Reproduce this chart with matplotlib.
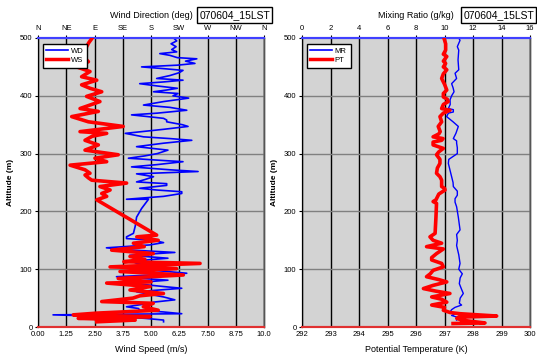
import matplotlib
matplotlib.use("Agg")
import matplotlib.pyplot as plt
from matplotlib.lines import Line2D

plt.rcParams['font.family'] = ['Liberation Sans', 'DejaVu Sans']

# ---------------- data ----------------
wd_alt = [500, 495, 490, 485, 480, 476, 473, 470, 466, 464, 460, 456, 453, 450, 447, 444, 440, 435,
          430, 427, 424, 421, 417, 413, 410, 407, 404, 400, 396, 390, 384, 380, 375, 370, 367, 364,
          361, 358, 355, 350, 347, 342, 335, 329, 326, 323, 318, 312, 306, 300, 296, 292, 288, 286,
          281, 277, 272, 269, 265, 260, 255, 251, 248, 245, 240, 237, 234, 231, 226, 221, 221, 205,
          190, 175, 162, 156, 153, 150, 146, 142, 137, 133, 129, 124, 119, 114, 110, 104, 98, 93, 87,
          81, 76, 70, 67, 61, 56, 52, 47, 43, 41, 35, 32, 29, 26, 23, 21, 18, 15, 12, 9]
wd_deg = [216, 221, 212, 220, 213, 221, 194, 210, 222, 253, 235, 250, 222, 165, 200, 231, 225, 210,
          189, 231, 200, 162, 190, 222, 205, 184, 223, 215, 240, 200, 168, 210, 237, 190, 149, 175,
          200, 205, 205, 230, 239, 200, 139, 168, 210, 245, 200, 157, 207, 190, 170, 144, 200, 231,
          190, 149, 210, 255, 157, 184, 170, 157, 205, 205, 162, 189, 229, 229, 200, 141, 176, 165,
          157, 155, 152, 141, 141, 184, 200, 178, 109, 150, 218, 146, 207, 150, 157, 200, 185, 237, 125,
          207, 146, 200, 229, 157, 180, 200, 218, 184, 178, 141, 160, 162, 200, 229, 24, 125, 170, 200, 200]

ws_alt = [500, 492, 485, 476, 468, 459, 450, 442, 433, 427, 419, 413, 407, 399, 390, 384, 378, 373,
          364, 355, 347, 338, 335, 330, 323, 315, 306, 298, 292, 286, 280, 272, 266, 263, 258, 254,
          249, 243, 237, 231, 226, 220, 159, 156, 150, 145, 139, 133, 127, 122, 117, 113, 110, 104,
          101, 96, 90, 84, 78, 76, 70, 64, 58, 54, 50, 44, 41, 35, 29, 24, 21, 18, 15, 12, 9]
ws_ms = [2.40, 2.25, 2.15, 2.10, 2.00, 2.23, 1.71, 2.30, 1.93, 2.60, 1.93, 2.30, 2.82, 2.15, 2.74, 2.30,
         1.86, 2.67, 1.49, 2.23, 3.77, 1.86, 3.04, 2.40, 2.08, 2.67, 2.08, 3.55, 2.52, 3.04, 1.42, 2.08,
         2.30, 2.08, 2.23, 2.38, 3.92, 2.74, 3.19, 2.82, 3.04, 2.60, 5.25, 4.37, 5.32, 4.22, 4.70, 3.26,
         5.10, 4.07, 4.73, 3.80, 7.17, 3.19, 6.13, 3.63, 6.43, 3.55, 5.00, 3.04, 4.96, 4.07, 5.55, 4.51,
         4.20, 2.82, 5.10, 4.66, 5.32, 2.60, 1.56, 4.96, 1.78, 4.30, 2.60]

mr_alt = [500, 496, 485, 479, 462, 445, 439, 430, 421, 414, 407, 400, 393, 385, 378, 376, 372, 370,
          364, 355, 347, 335, 326, 322, 318, 310, 300, 290, 283, 270, 260, 250, 243, 235, 228, 222,
          216, 208, 190, 168, 160, 150, 141, 125, 110, 100, 92, 85, 75, 65, 58, 50, 41, 38, 34, 30,
          26, 22, 20, 16, 12]
mr_gkg = [11.0, 11.09, 10.9, 11.0, 10.95, 11.0, 10.74, 10.85, 10.5, 10.6, 10.67, 10.5, 10.39, 10.4,
          10.27, 10.62, 10.62, 10.27, 10.15, 10.6, 10.97, 10.8, 10.62, 10.85, 10.85, 10.9, 10.9, 10.3,
          10.27, 10.4, 10.5, 10.6, 10.62, 10.9, 10.9, 10.74, 10.74, 10.85, 10.97, 11.09, 10.85, 10.9,
          10.85, 11.0, 11.09, 11.0, 11.25, 11.1, 11.04, 11.2, 11.32, 11.1, 11.04, 11.2, 10.74, 10.5,
          10.39, 10.7, 10.5, 11.0, 10.85]

pt_alt = [500, 490, 479, 472, 468, 460, 456, 450, 445, 438, 430, 420, 410, 404, 398, 394, 390, 385,
          378, 375, 370, 364, 355, 347, 338, 334, 329, 326, 323, 320, 315, 309, 303, 298, 290, 283,
          275, 266, 260, 254, 248, 243, 240, 237, 230, 220, 217, 214, 190, 162, 156, 150, 145, 139,
          135, 127, 120, 116, 110, 104, 98, 92, 87, 82, 78, 72, 66.5, 62, 58, 52, 48, 43, 38, 34, 29,
          25, 23, 19, 17, 15, 12, 10, 7, 6]
pt_k = [296.98, 297.04, 297.04, 296.96, 297.08, 296.96, 297.04, 296.96, 297.08, 296.96, 296.90,
        297.00, 297.08, 296.96, 296.96, 297.10, 297.13, 296.96, 296.90, 297.19, 296.96, 296.84,
        296.90, 296.78, 296.85, 296.80, 296.60, 296.95, 296.90, 296.60, 296.60, 296.96, 296.80,
        296.72, 296.84, 296.84, 296.75, 296.72, 296.84, 296.90, 296.90, 296.90, 297.00, 297.02,
        296.80, 296.70, 296.60, 296.72, 296.70, 296.67, 296.49, 296.60, 296.90, 296.37, 296.96,
        296.72, 296.55, 296.55, 296.90, 296.96, 296.60, 296.50, 296.37, 296.80, 297.08, 296.60,
        296.26, 296.70, 297.19, 296.55, 296.90, 297.08, 296.55, 297.00, 296.96, 297.20, 297.54,
        298.83, 297.50, 297.43, 297.60, 297.90, 298.42, 297.30]

dir_ticks = [0, 45, 90, 135, 180, 225, 270, 315, 360]
dir_labels = ['N', 'NE', 'E', 'SE', 'S', 'SW', 'W', 'NW', 'N']
ws_ticks = [0, 1.25, 2.5, 3.75, 5.0, 6.25, 7.5, 8.75, 10.0]
ws_labels = ['0.00', '1.25', '2.50', '3.75', '5.00', '6.25', '7.50', '8.75', '10.0']
mr_ticks = [0, 2, 4, 6, 8, 10, 12, 14, 16]
pt_ticks = [292, 293, 294, 295, 296, 297, 298, 299, 300]
alt_ticks = [0, 100, 200, 300, 400, 500]

# ---------------- figure ----------------
W, H = 537, 356
fig = plt.figure(figsize=(W / 100, H / 100), dpi=100)
fig.patch.set_facecolor('white')

BG = '#d3d3d3'
TFS = 5.5


def panel(rect, top_ticks, top_labels, top_lim, bot_ticks, bot_labels, bot_lim,
          top_x, top_y, bot_x, bot_y, top_lw, bot_lw, names, bot_label):
    ax = fig.add_axes(rect)
    ax2 = ax.twiny()
    ax.set_facecolor(BG)
    ax2.patch.set_visible(False)

    ax.set_xlim(*top_lim)
    ax.set_ylim(0, 500)
    ax.xaxis.set_ticks_position('top')
    ax.xaxis.set_label_position('top')
    ax.set_xticks(top_ticks)
    ax.set_xticklabels(top_labels)
    ax.set_yticks(alt_ticks)
    ax.tick_params(axis='y', labelsize=TFS, length=2.5, width=0.8, pad=1.5, colors='black')
    ax.tick_params(axis='x', labelsize=TFS, length=2.5, width=0.8, pad=1.5,
                   top=True, labeltop=True, bottom=False, labelbottom=False)
    for t in top_ticks:
        ax.axvline(t, color='black', lw=1.0, zorder=1)
    for a in alt_ticks[1:-1]:
        ax.axhline(a, color='#808080', lw=1.0, zorder=1)
    ax.plot(top_x, top_y, color='#0000ff', lw=top_lw, zorder=3)
    ax.set_ylabel('Altitude (m)', fontsize=6, fontweight='bold', labelpad=4)

    ax2.set_xlim(*bot_lim)
    ax2.xaxis.set_ticks_position('bottom')
    ax2.xaxis.set_label_position('bottom')
    ax2.set_xticks(bot_ticks)
    ax2.set_xticklabels(bot_labels)
    ax2.tick_params(axis='x', labelsize=TFS, length=0, pad=3,
                    bottom=True, labelbottom=True, top=False, labeltop=False)
    ax2.plot(bot_x, bot_y, color='#ff0000', lw=bot_lw, zorder=3)
    ax2.set_xlabel(bot_label, fontsize=6.5, labelpad=5)

    for a in (ax, ax2):
        a.spines['top'].set_color('#4040ff')
        a.spines['top'].set_linewidth(1.5)
        a.spines['bottom'].set_color('#e03030')
        a.spines['bottom'].set_linewidth(1.5)
        a.spines['left'].set_color('black')
        a.spines['right'].set_color('#555555')
        a.spines['right'].set_linewidth(1.0)

    handles = [Line2D([], [], color='#0000ff', lw=1.2),
               Line2D([], [], color='#ff0000', lw=2.5)]
    leg = ax2.legend(handles, names, loc='upper left', bbox_to_anchor=(0.02, 0.98),
                     fontsize=5.5, frameon=True, fancybox=False, framealpha=1,
                     edgecolor='black', handlelength=2.8, borderpad=0.5,
                     labelspacing=0.2, handletextpad=0.4, borderaxespad=0)
    leg.get_frame().set_linewidth(1.0)
    leg.set_zorder(10)
    return ax, ax2


bot = 1 - 327 / H
hgt = (327 - 38) / H

panel([38 / W, bot, 226 / W, hgt], dir_ticks, dir_labels, (0, 360),
      ws_ticks, ws_labels, (0, 10),
      wd_deg, wd_alt, ws_ms, ws_alt, 1.2, 2.6, ['WD', 'WS'], 'Wind Speed (m/s)')

panel([302 / W, bot, 228 / W, hgt], mr_ticks, [str(t) for t in mr_ticks], (0, 16),
      pt_ticks, [str(t) for t in pt_ticks], (292, 300),
      mr_gkg, mr_alt, pt_k, pt_alt, 1.0, 2.6, ['MR', 'PT'], 'Potential Temperature (K)')

ty = 1 - 15 / H
fig.text(151 / W, ty, 'Wind Direction (deg)', fontsize=6.5, ha='center', va='center')
fig.text(416 / W, ty, 'Mixing Ratio (g/kg)', fontsize=6.5, ha='center', va='center')
box = dict(boxstyle='square,pad=0.25', fc='white', ec='black', lw=1.0)
fig.text(234.5 / W, ty, '070604_15LST', fontsize=7.5, ha='center', va='center', bbox=box)
fig.text(498.5 / W, ty, '070604_15LST', fontsize=7.5, ha='center', va='center', bbox=box)

fig.savefig('out.png', dpi=100, facecolor='white')
